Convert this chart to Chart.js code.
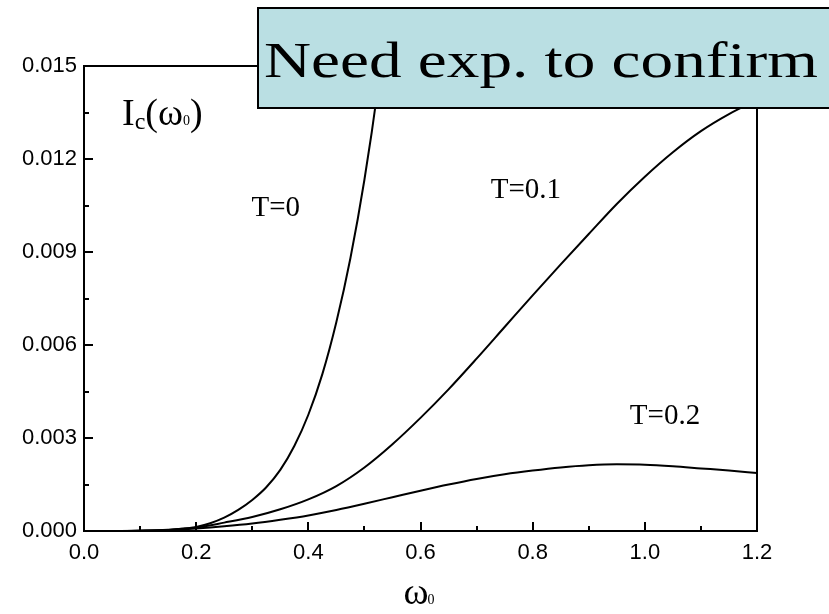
<!DOCTYPE html>
<html>
<head>
<meta charset="utf-8">
<script src="https://cdn.jsdelivr.net/npm/chart.js@4/dist/chart.umd.min.js"></script>
<style>
  html, body { margin: 0; padding: 0; background: #fff; }
  #wrap { width: 829px; height: 614px; position: relative; }
</style>
</head>
<body>
<div id="wrap"><canvas id="chart"></canvas></div>
<script>
// Data: critical current Ic vs omega0 for three temperatures
const omegaT0 = [0, 0.05, 0.1, 0.15, 0.175, 0.2, 0.225, 0.25, 0.275, 0.3, 0.325, 0.35, 0.375,
                 0.4, 0.425, 0.45, 0.475, 0.5, 0.525, 0.55];
const icT0 = [0, 0, 0.000005, 0.00003, 0.00007, 0.00013, 0.00025, 0.00043, 0.00068, 0.001, 0.00141,
              0.00197, 0.00274, 0.00375, 0.00506, 0.00674, 0.0088, 0.01133, 0.01441, 0.01813];

const omega = [0, 0.05, 0.1, 0.15, 0.2, 0.25, 0.3, 0.35, 0.4, 0.45, 0.5, 0.55, 0.6, 0.65, 0.7, 0.75,
               0.8, 0.85, 0.9, 0.95, 1.0, 1.05, 1.1, 1.15, 1.2];
const icT01 = [0, 0, 0.00001, 0.00004, 0.00011, 0.00027, 0.00045, 0.0007, 0.00102, 0.00145, 0.00205, 0.0028,
               0.00365, 0.00457, 0.00556, 0.00658, 0.0076, 0.0086, 0.00958, 0.01055, 0.01143, 0.01222, 0.0129, 0.01345, 0.0139];
const icT02 = [0, 0, 0.00001, 0.00003, 0.00008, 0.00015, 0.00024, 0.00036, 0.0005, 0.00068, 0.00088, 0.00109,
               0.0013, 0.0015, 0.00168, 0.00183, 0.00195, 0.00205, 0.00212, 0.00215, 0.00214, 0.00209, 0.00202, 0.00195, 0.00187];

const xTicks = [0, 0.2, 0.4, 0.6, 0.8, 1.0, 1.2];
const yTicks = [0, 0.003, 0.006, 0.009, 0.012, 0.015];

// curve labels, placed in data coordinates
const curveLabels = [
  { text: 'T=0', x: 0.342, y: 0.0104 },
  { text: 'T=0.1', x: 0.788, y: 0.0110 },
  { text: 'T=0.2', x: 1.036, y: 0.0037 }
];

function toPoints(xs, ys) {
  return xs.map((x, i) => ({ x: x, y: ys[i] }));
}

function curve(label, xs, ys) {
  return {
    label: label,
    data: toPoints(xs, ys),
    borderColor: '#000',
    borderWidth: 2,
    pointRadius: 0,
    fill: false,
    cubicInterpolationMode: 'monotone',
    clip: 0
  };
}

// frame, inward ticks, annotations and the callout box
const decorations = {
  id: 'decorations',
  afterDraw(chart) {
    const ctx = chart.ctx;
    const a = chart.chartArea;
    const xs = chart.scales.x, ys = chart.scales.y;
    ctx.save();
    ctx.strokeStyle = '#000';
    ctx.lineWidth = 2;
    ctx.strokeRect(a.left, a.top, a.right - a.left, a.bottom - a.top);

    // ticks pointing into the plot
    ctx.beginPath();
    for (let v = 0; v <= 1.2001; v += 0.1) {
      const px = Math.round(xs.getPixelForValue(v));
      const major = Math.round(v * 10) % 2 === 0;
      ctx.moveTo(px, a.bottom);
      ctx.lineTo(px, a.bottom - (major ? 9 : 5));
    }
    for (let v = 0; v <= 0.01501; v += 0.0015) {
      const py = Math.round(ys.getPixelForValue(v));
      const major = Math.round(v / 0.0015) % 2 === 0;
      ctx.moveTo(a.left, py);
      ctx.lineTo(a.left + (major ? 9 : 5), py);
    }
    ctx.stroke();

    // curve labels
    ctx.fillStyle = '#000';
    ctx.font = '29px "Liberation Serif", serif';
    ctx.textAlign = 'center';
    ctx.textBaseline = 'middle';
    curveLabels.forEach(l => {
      ctx.fillText(l.text, xs.getPixelForValue(l.x), ys.getPixelForValue(l.y));
    });

    // y label: Ic(w0)
    ctx.textAlign = 'left';
    ctx.textBaseline = 'alphabetic';
    let x = 122, base = 125;
    const big = '38px "Liberation Serif", serif';
    const parts = [['I', big, 0], ['c', '24px "Liberation Serif", serif', 4], ['(\u03c9', big, 0],
                   ['0', '14px "Liberation Serif", serif', 0], [')', big, 0]];
    parts.forEach(p => {
      ctx.font = p[1];
      ctx.fillText(p[0], x, base + p[2]);
      x += ctx.measureText(p[0]).width;
    });

    // x title: w0
    ctx.font = '38px "Liberation Serif", serif';
    const w = ctx.measureText('\u03c9').width;
    const cx = 420;
    ctx.fillText('\u03c9', cx - w / 2 - 4, 604);
    ctx.font = '14px "Liberation Serif", serif';
    ctx.fillText('0', cx + w / 2 - 5, 604);

    // callout box
    ctx.fillStyle = '#badfe3';
    ctx.fillRect(258, 8, 600, 100);
    ctx.strokeStyle = '#000';
    ctx.lineWidth = 2;
    ctx.strokeRect(258, 8, 600, 100);
    ctx.fillStyle = '#000';
    ctx.font = '50px "Liberation Serif", serif';
    const msg = 'Need exp. to confirm';
    const mw = ctx.measureText(msg).width;
    ctx.translate(264, 77);
    ctx.scale(554 / mw, 1);
    ctx.fillText(msg, 0, 0);
    ctx.restore();
  }
};

new Chart(document.getElementById('chart'), {
  type: 'line',
  data: {
    datasets: [
      curve('T=0', omegaT0, icT0),
      curve('T=0.1', omega, icT01),
      curve('T=0.2', omega, icT02)
    ]
  },
  options: {
    responsive: true,
    maintainAspectRatio: false,
    animation: false,
    layout: { padding: { top: 66, right: 72, left: 0, bottom: 0 } },
    plugins: {
      legend: { display: false },
      tooltip: { enabled: false }
    },
    scales: {
      x: {
        type: 'linear',
        min: 0,
        max: 1.2,
        border: { display: false },
        grid: { display: false, drawTicks: false },
        afterBuildTicks: s => { s.ticks = xTicks.map(v => ({ value: v })); },
        afterFit: s => { s.height = 83; },
        ticks: {
          padding: 9,
          color: '#000',
          font: { family: '"Liberation Sans", Arial, sans-serif', size: 22 },
          callback: v => v.toFixed(1)
        }
      },
      y: {
        type: 'linear',
        min: 0,
        max: 0.015,
        border: { display: false },
        grid: { display: false, drawTicks: false },
        afterBuildTicks: s => { s.ticks = yTicks.map(v => ({ value: v })); },
        afterFit: s => { s.width = 84; },
        ticks: {
          padding: 7,
          color: '#000',
          font: { family: '"Liberation Sans", Arial, sans-serif', size: 22 },
          callback: v => v.toFixed(3)
        }
      }
    }
  },
  plugins: [decorations]
});
</script>
</body>
</html>
